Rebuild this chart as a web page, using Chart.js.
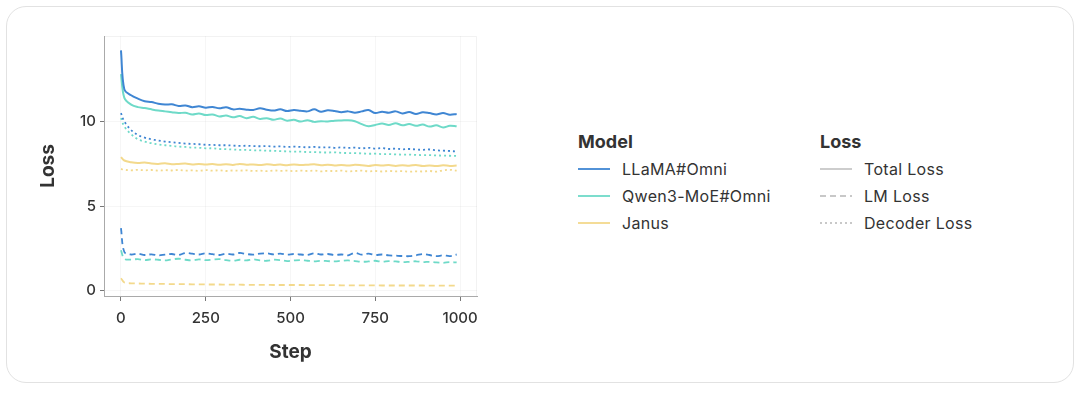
<!DOCTYPE html>
<html>
<head>
<meta charset="utf-8">
<script src="https://cdn.jsdelivr.net/npm/chart.js@4"></script>
<style>
  html, body { margin: 0; padding: 0; background: #fff; }
  body { width: 1080px; height: 395px; position: relative; overflow: hidden; font-family: Inter, "Noto Sans", sans-serif; }
  .card { position: absolute; left: 6px; top: 6px; width: 1066px; height: 375px; border: 1px solid #e2e2e2; border-radius: 20px; }
  #chart { position: absolute; left: 0; top: 0; }
  .legend { position: absolute; color: #333; }
  .legend .title { font-weight: 700; font-size: 18px; height: 22px; line-height: 22px; margin-bottom: 2px; }
  .legend .row { height: 27px; display: flex; align-items: center; font-size: 16px; letter-spacing: 0.3px; }
  .legend svg { margin-right: 12px; }
</style>
</head>
<body>
<div class="card"></div>
<canvas id="chart" width="490" height="395"></canvas>
<div id="legendModel" class="legend" style="left:578px; top:131px;"></div>
<div id="legendLoss" class="legend" style="left:820px; top:131px;"></div>
<script>
// training steps
const steps = [0, 10, 30, 50, 70, 90, 110, 130, 150, 170, 190, 210, 230, 250, 270, 290, 310, 330, 350, 370,
  390, 410, 430, 450, 470, 490, 510, 530, 550, 570, 590, 610, 630, 650, 670, 690, 710, 730, 750, 770,
  790, 810, 830, 850, 870, 890, 910, 930, 950, 970, 990];

const llamaTotal = [14.2, 11.9, 11.55, 11.35, 11.2, 11.15, 11.05, 11.0, 11.02, 10.92, 10.95, 10.85, 10.9, 10.82, 10.86, 10.78, 10.85, 10.72, 10.75, 10.7,
  10.68, 10.78, 10.7, 10.65, 10.72, 10.62, 10.68, 10.64, 10.6, 10.72, 10.58, 10.66, 10.62, 10.55, 10.6, 10.52, 10.6, 10.68, 10.5, 10.58,
  10.52, 10.6, 10.48, 10.56, 10.45, 10.55, 10.5, 10.42, 10.5, 10.4, 10.45];
const qwenTotal = [12.8, 11.4, 11.0, 10.85, 10.8, 10.72, 10.65, 10.6, 10.55, 10.5, 10.52, 10.42, 10.48, 10.38, 10.42, 10.3, 10.36, 10.25, 10.32, 10.2,
  10.28, 10.15, 10.2, 10.1, 10.18, 10.05, 10.1, 10.0, 10.08, 9.98, 10.02, 10.0, 10.05, 10.06, 10.08, 10.02, 9.85, 9.72, 9.8, 9.88,
  9.8, 9.9, 9.78, 9.85, 9.75, 9.82, 9.7, 9.78, 9.65, 9.75, 9.72];
const janusTotal = [7.9, 7.7, 7.6, 7.55, 7.58, 7.52, 7.5, 7.54, 7.48, 7.5, 7.52, 7.47, 7.5, 7.46, 7.49, 7.45, 7.48, 7.44, 7.5, 7.45,
  7.47, 7.43, 7.48, 7.44, 7.46, 7.42, 7.47, 7.43, 7.45, 7.48, 7.42, 7.45, 7.41, 7.44, 7.4, 7.45, 7.42, 7.38, 7.44, 7.4,
  7.43, 7.38, 7.42, 7.39, 7.44, 7.38, 7.41, 7.37, 7.42, 7.38, 7.4];

const llamaLM = [3.7, 2.3, 2.15, 2.2, 2.12, 2.16, 2.1, 2.14, 2.18, 2.12, 2.24, 2.2, 2.15, 2.22, 2.17, 2.12, 2.2, 2.15, 2.24, 2.18,
  2.14, 2.2, 2.22, 2.16, 2.2, 2.14, 2.18, 2.15, 2.12, 2.22, 2.15, 2.18, 2.12, 2.15, 2.1, 2.25, 2.14, 2.2, 2.12, 2.15,
  2.1, 2.08, 2.06, 2.05, 2.1, 2.18, 2.12, 2.05, 2.1, 2.06, 2.15];
const qwenLM = [2.4, 1.9, 1.85, 1.88, 1.82, 1.86, 1.84, 1.8, 1.86, 1.9, 1.84, 1.8, 1.86, 1.82, 1.85, 1.88, 1.82, 1.78, 1.84, 1.8,
  1.86, 1.8, 1.78, 1.84, 1.82, 1.76, 1.8, 1.82, 1.78, 1.75, 1.78, 1.76, 1.74, 1.78, 1.8, 1.76, 1.72, 1.74, 1.78, 1.72,
  1.76, 1.74, 1.7, 1.72, 1.75, 1.7, 1.72, 1.68, 1.66, 1.7, 1.68];
const janusLM = [0.75, 0.5, 0.45, 0.44, 0.43, 0.42, 0.42, 0.41, 0.4, 0.4, 0.4, 0.39, 0.39, 0.38, 0.38, 0.38, 0.37, 0.37, 0.37, 0.36,
  0.36, 0.36, 0.36, 0.35, 0.35, 0.35, 0.35, 0.35, 0.34, 0.34, 0.34, 0.34, 0.34, 0.33, 0.33, 0.33, 0.33, 0.33, 0.33, 0.32,
  0.32, 0.32, 0.32, 0.32, 0.32, 0.32, 0.31, 0.31, 0.31, 0.31, 0.31];

const llamaDecoder = [10.5, 10.0, 9.5, 9.2, 9.05, 8.95, 8.88, 8.82, 8.78, 8.74, 8.7, 8.68, 8.66, 8.63, 8.62, 8.6, 8.6, 8.58, 8.56, 8.57,
  8.55, 8.54, 8.55, 8.52, 8.53, 8.5, 8.52, 8.5, 8.48, 8.5, 8.47, 8.48, 8.45, 8.47, 8.44, 8.46, 8.42, 8.45, 8.4, 8.43,
  8.38, 8.4, 8.36, 8.38, 8.35, 8.33, 8.35, 8.3, 8.28, 8.26, 8.23];
const qwenDecoder = [10.2, 9.7, 9.25, 8.95, 8.82, 8.72, 8.65, 8.6, 8.56, 8.52, 8.5, 8.46, 8.45, 8.42, 8.42, 8.38, 8.37, 8.35, 8.33, 8.33,
  8.3, 8.3, 8.28, 8.27, 8.25, 8.24, 8.22, 8.22, 8.2, 8.2, 8.18, 8.17, 8.18, 8.15, 8.14, 8.14, 8.12, 8.1, 8.1, 8.08,
  8.08, 8.06, 8.05, 8.05, 8.03, 8.02, 8.02, 8.0, 7.99, 7.98, 7.97];
const janusDecoder = [7.2, 7.15, 7.12, 7.15, 7.12, 7.14, 7.1, 7.13, 7.11, 7.14, 7.1, 7.12, 7.09, 7.13, 7.1, 7.12, 7.08, 7.11, 7.1, 7.12,
  7.08, 7.1, 7.07, 7.11, 7.09, 7.1, 7.07, 7.1, 7.08, 7.1, 7.06, 7.09, 7.07, 7.1, 7.06, 7.08, 7.1, 7.06, 7.08, 7.05,
  7.08, 7.06, 7.07, 7.04, 7.06, 7.05, 7.08, 7.04, 7.12, 7.15, 7.1];

const xTicks = [0, 250, 500, 750, 1000];
const yTicks = [0, 5, 10];

const models = ['LLaMA#Omni', 'Qwen3-MoE#Omni', 'Janus'];
const modelColors = ['#3f86d3', '#6edac8', '#f3d98c'];
const lossTypes = ['Total Loss', 'LM Loss', 'Decoder Loss'];
const lossDash = [[], [6, 4], [2, 3]];

const seriesTable = [
  [llamaTotal, llamaLM, llamaDecoder],
  [qwenTotal, qwenLM, qwenDecoder],
  [janusTotal, janusLM, janusDecoder],
];

const datasets = [];
seriesTable.forEach((row, m) => {
  row.forEach((values, l) => {
    datasets.push({
      label: models[m] + ' ' + lossTypes[l],
      data: steps.map((s, i) => ({ x: s, y: values[i] })),
      borderColor: modelColors[m],
      borderWidth: l === 0 ? 2 : 1.8,
      borderDash: lossDash[l],
      pointRadius: 0,
      tension: 0.35,
      fill: false,
    });
  });
});

// faint frame on top/right of the plot
const framePlugin = {
  id: 'frame',
  beforeDraw(chart) {
    const { ctx, chartArea: a } = chart;
    ctx.save();
    ctx.strokeStyle = 'rgba(0,0,0,0.05)';
    ctx.lineWidth = 1;
    ctx.beginPath();
    ctx.moveTo(a.left, a.top + 0.5);
    ctx.lineTo(a.right - 0.5, a.top + 0.5);
    ctx.lineTo(a.right - 0.5, a.bottom);
    ctx.stroke();
    ctx.restore();
  },
};

const tickFont = { family: 'Inter', size: 15, weight: '500' };
const titleFont = { family: 'Inter', size: 19, weight: '700' };

new Chart(document.getElementById('chart'), {
  type: 'line',
  data: { datasets },
  plugins: [framePlugin],
  options: {
    responsive: false,
    animation: false,
    layout: { padding: { top: 36, right: 13, left: 0, bottom: 0 } },
    plugins: { legend: { display: false }, tooltip: { enabled: false } },
    scales: {
      x: {
        type: 'linear',
        min: -50,
        max: 1050,
        afterBuildTicks: (scale) => { scale.ticks = xTicks.map(v => ({ value: v })); },
        afterFit: (scale) => { scale.height = 99; },
        ticks: { color: '#333', font: tickFont, padding: 8, callback: (v) => String(v) },
        grid: { color: 'rgba(0,0,0,0.035)', tickColor: '#777', tickLength: 5, drawTicks: true },
        border: { color: '#aaa', width: 1 },
        title: { display: true, text: 'Step', color: '#333', font: titleFont, padding: { top: 0, bottom: 31 } },
      },
      y: {
        min: -0.3,
        max: 15.05,
        afterBuildTicks: (scale) => { scale.ticks = yTicks.map(v => ({ value: v })); },
        afterFit: (scale) => { scale.width = 104; },
        ticks: { color: '#333', font: tickFont, padding: 4 },
        grid: { color: 'rgba(0,0,0,0.035)', tickColor: '#777', tickLength: 4, drawTicks: true },
        border: { color: '#aaa', width: 1 },
        title: { display: true, text: 'Loss', color: '#333', font: titleFont, padding: { top: 37, bottom: 0 } },
      },
    },
  },
});

// two-column legend: colours for models, dash styles for loss types
function sample(color, dash) {
  return '<svg width="32" height="4"><line x1="0" y1="2" x2="32" y2="2" stroke="' + color +
    '" stroke-width="1.8" stroke-dasharray="' + dash.join(',') + '"/></svg>';
}
let html = '<div class="title">Model</div>';
models.forEach((m, i) => { html += '<div class="row">' + sample(modelColors[i], []) + '<span>' + m + '</span></div>'; });
document.getElementById('legendModel').innerHTML = html;
html = '<div class="title">Loss</div>';
lossTypes.forEach((t, i) => { html += '<div class="row">' + sample('#c8c8c8', lossDash[i]) + '<span>' + t + '</span></div>'; });
document.getElementById('legendLoss').innerHTML = html;
</script>
</body>
</html>
